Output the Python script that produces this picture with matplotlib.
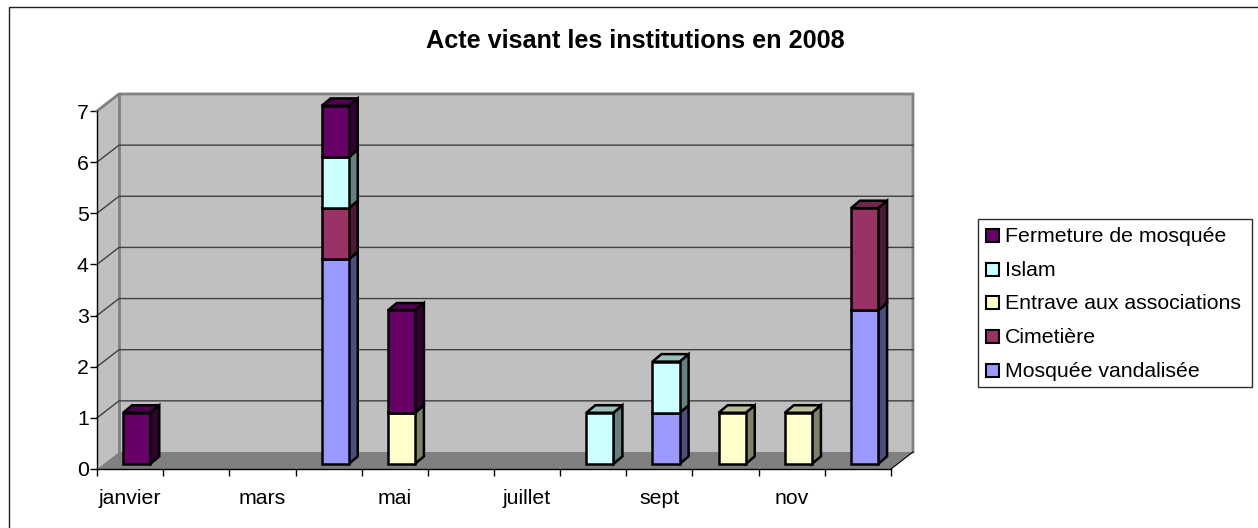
import matplotlib
matplotlib.use("Agg")
from matplotlib import pyplot as plt
from matplotlib.lines import Line2D
from matplotlib.patches import Polygon, Rectangle

title = "Acte visant les institutions en 2008"
months = ["janvier", "", "mars", "", "mai", "", "juillet", "", "sept", "", "nov", ""]
mosquee = [0, 0, 0, 4, 0, 0, 0, 0, 1, 0, 0, 3]
cimetiere = [0, 0, 0, 1, 0, 0, 0, 0, 0, 0, 0, 2]
entrave = [0, 0, 0, 0, 1, 0, 0, 0, 0, 1, 1, 0]
islam = [0, 0, 0, 1, 0, 0, 0, 1, 1, 0, 0, 0]
fermeture = [1, 0, 0, 1, 2, 0, 0, 0, 0, 0, 0, 0]
series_names = ["Mosquée vandalisée", "Cimetière", "Entrave aux associations", "Islam", "Fermeture de mosquée"]
colors = ["#9999ff", "#993366", "#ffffcc", "#ccffff", "#660066"]
side_colors = ["#4d4d80", "#4d1a33", "#808066", "#668080", "#330033"]
top_colors = ["#737399", "#73264d", "#bfbf99", "#99bfbf", "#4d004d"]

W, H = 1258, 528
DEPTH_X = 22 / 66.2   # oblique depth of the floor, in months
DEPTH_Y = 17 / 51.1   # same, in value units
BAR_W = 0.41


def poly(ax, pts, fc, ec="none", lw=0, z=1):
    ax.add_patch(Polygon(pts, closed=True, facecolor=fc, edgecolor=ec, linewidth=lw,
                         zorder=z, clip_on=False, joinstyle="miter"))


def main():
    plt.rcParams["font.family"] = ["Liberation Sans", "DejaVu Sans"]
    fig = plt.figure(figsize=(W / 100, H / 100), dpi=100)
    # the chart frame only shows on its top and left sides
    fig.add_artist(Line2D([8.5 / W, 8.5 / W, 1], [0, 1 - 6.5 / H, 1 - 6.5 / H], color="#202020", lw=1,
                          solid_joinstyle="miter", zorder=-1))
    ax = fig.add_axes([97 / W, 1 - 469 / H, 794 / W, 358 / H])
    ax.set_xlim(0, 12)
    ax.set_ylim(0, 7)
    ax.patch.set_visible(False)
    for name in ["top", "right"]:
        ax.spines[name].set_visible(False)
    ax.spines["left"].set_color("black")
    ax.spines["bottom"].set_color("black")
    ax.spines["left"].set_linewidth(1)
    ax.spines["bottom"].set_linewidth(1)

    dx, dy = DEPTH_X, DEPTH_Y
    # walls and floor
    poly(ax, [(dx, dy), (12 + dx, dy), (12 + dx, 7 + dy), (dx, 7 + dy)], "#c0c0c0")
    poly(ax, [(0, 0), (dx, dy), (dx, 7 + dy), (0, 7)], "#c0c0c0")
    poly(ax, [(0, 0), (12, 0), (12 + dx, dy), (dx, dy)], "#808080")
    ax.plot([0, dx, 12 + dx, 12 + dx], [7, 7 + dy, 7 + dy, dy], color="#808080", lw=2,
            clip_on=False, zorder=2, solid_joinstyle="miter")
    ax.plot([dx, dx], [dy, 7 + dy], color="#808080", lw=2, clip_on=False, zorder=2)
    ax.plot([12, 12 + dx], [0, dy], color="black", lw=0.8, clip_on=False, zorder=2)
    for v in range(1, 7):
        ax.plot([0, dx, 12 + dx], [v, v + dy, v + dy], color="#404040", lw=1, clip_on=False, zorder=2)

    # stacked bars, sitting 0.3 of the way into the floor depth
    stacks = [mosquee, cimetiere, entrave, islam, fermeture]
    ox, oy = 0.3 * dx, 0.3 * dy
    bx, by = 0.41 * dx, 0.44 * dy
    for i in range(len(months)):
        x0 = i + 0.5 - BAR_W / 2 + ox
        x1 = x0 + BAR_W
        base = 0
        for s, vals in enumerate(stacks):
            v = vals[i]
            if v == 0:
                continue
            y0, y1 = base + oy, base + v + oy
            poly(ax, [(x1, y0), (x1 + bx, y0 + by), (x1 + bx, y1 + by), (x1, y1)], side_colors[s], "black", 1.8, 3)
            poly(ax, [(x0, y1), (x1, y1), (x1 + bx, y1 + by), (x0 + bx, y1 + by)], top_colors[s], "black", 1.8, 3)
            poly(ax, [(x0, y0), (x1, y0), (x1, y1), (x0, y1)], colors[s], "black", 1.8, 4)
            base += v

    ax.set_yticks(range(8))
    ax.set_xticks(range(13))
    ax.set_xticklabels([])
    ax.tick_params(axis="y", length=5, width=1, labelsize=15.3, pad=1)
    ax.tick_params(axis="x", length=5, width=1)
    for i, m in enumerate(months):
        if m:
            ax.annotate(m, (i + 0.5, 0), xytext=(0, -14.5), textcoords="offset points",
                        ha="center", va="top", fontsize=15.3)

    fig.text(635.5 / W, 1 - 41 / H, title, ha="center", va="center", fontsize=18.2, fontweight="bold")

    # legend drawn by hand so the box and swatches sit where the reference has them
    lx, ly, lw, lh = 978, 219, 274, 168
    fig.add_artist(Rectangle((lx / W, 1 - (ly + lh) / H), lw / W, lh / H, transform=fig.transFigure,
                             facecolor="white", edgecolor="#303030", linewidth=1))
    for k, s in enumerate(reversed(range(5))):
        cy = 235.5 + k * 33.7
        fig.add_artist(Rectangle((986 / W, 1 - (cy + 6.5) / H), 13 / W, 13 / H, transform=fig.transFigure,
                                 facecolor=colors[s], edgecolor="black", linewidth=1.5))
        fig.text(1005 / W, 1 - (cy + 1) / H, series_names[s], ha="left", va="center", fontsize=15.3)

    fig.savefig("out.png", dpi=100)


if __name__ == '__main__':
    main()
